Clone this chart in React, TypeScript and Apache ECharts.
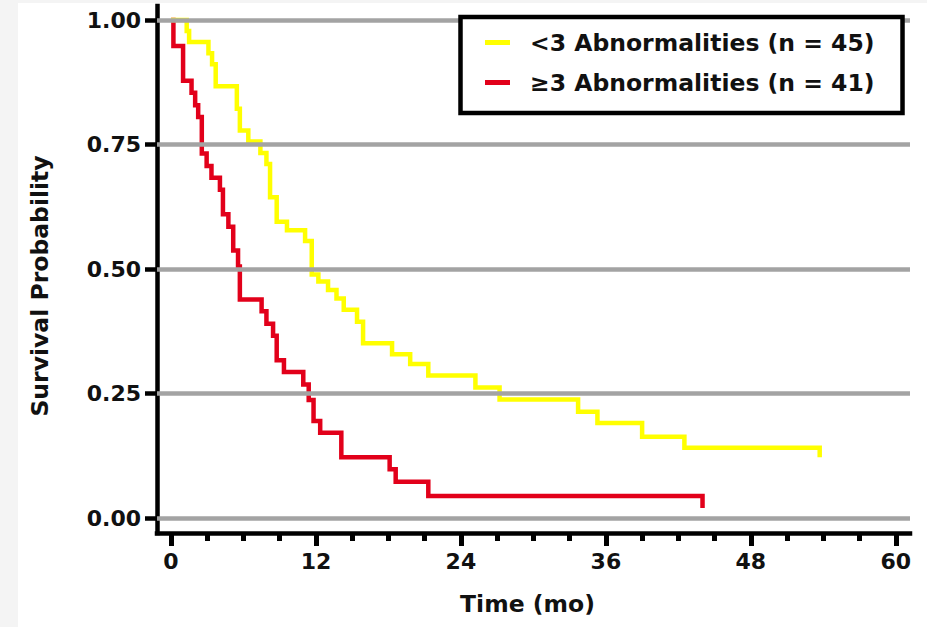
import React, { useEffect, useRef } from "react";
import * as echarts from "echarts";

const yellowName = "<3 Abnormalities (n = 45)";
const redName = "\u22653 Abnormalities (n = 41)";

const yellowTimes = [0, 1.3, 1.5, 3.1, 3.4, 3.7, 5.45, 5.7, 6.4, 7.4, 7.9, 8.2, 8.75, 9.6, 11.1, 11.65, 12.2, 13.0, 13.7, 14.3, 15.4, 15.9, 18.3, 19.8, 21.3, 25.2, 27.2, 33.7, 35.3, 39.0, 42.5, 53.7];
const yellowSurv = [1, 0.978, 0.956, 0.933, 0.911, 0.867, 0.822, 0.778, 0.756, 0.733, 0.711, 0.644, 0.595, 0.578, 0.556, 0.489, 0.475, 0.458, 0.441, 0.418, 0.394, 0.351, 0.329, 0.309, 0.286, 0.262, 0.238, 0.2135, 0.191, 0.163, 0.141, 0.122];

const redTimes = [0, 0.2, 1.0, 1.7, 2.0, 2.25, 2.55, 2.95, 3.35, 4.05, 4.3, 4.75, 5.15, 5.55, 5.7, 7.5, 7.9, 8.45, 8.75, 9.35, 10.95, 11.4, 11.8, 12.35, 14.1, 18.1, 18.6, 21.3, 44.0];
const redSurv = [1, 0.948, 0.878, 0.854, 0.829, 0.805, 0.732, 0.707, 0.683, 0.659, 0.61, 0.585, 0.537, 0.505, 0.439, 0.415, 0.39, 0.366, 0.317, 0.293, 0.268, 0.237, 0.195, 0.171, 0.122, 0.098, 0.073, 0.044, 0.02];

const gridValues = [0, 0.25, 0.5, 0.75, 1];
const xTickMin = 0;
const xTickMax = 60;
const xTickStep = 12;
const yTickMin = 0;
const yTickMax = 1;
const yTickStep = 0.25;

const FONT = "DejaVu Sans";

export default function App() {
  const ref = useRef<HTMLDivElement>(null);
  useEffect(() => {
    if (!ref.current) return;
    const chart = echarts.init(ref.current, null, { renderer: "svg" });
    const pxPerMonth = 12.08;
    const x0 = 171;
    const pxPerUnit = 498;
    const y0 = 518;
    const aLeft = 157, aRight = 910, aTop = 6, aBottom = 533;
    const labelStyle = { fontFamily: FONT, fontWeight: "bold" as const, fontSize: 22, color: "#111" };
    chart.setOption({
      animation: false,
      backgroundColor: "#ffffff",
      grid: [
        { left: aLeft, top: aTop, width: aRight - aLeft, height: aBottom - aTop, containLabel: false },
        { left: x0, top: 20, width: pxPerMonth * 60, height: pxPerUnit, containLabel: false },
      ],
      xAxis: [
        {
          gridIndex: 0,
          type: "value",
          min: (aLeft - x0) / pxPerMonth,
          max: (aRight - x0) / pxPerMonth,
          position: "bottom",
          axisLine: { show: true, onZero: false, lineStyle: { color: "#000", width: 4.5, cap: "square" } },
          axisTick: { show: false },
          axisLabel: { show: false },
          splitLine: { show: false },
        },
        {
          gridIndex: 1,
          type: "value",
          min: xTickMin,
          max: xTickMax,
          interval: xTickStep,
          offset: 15,
          position: "bottom",
          axisLine: { show: false, onZero: false },
          axisTick: { show: true, length: 13, lineStyle: { color: "#000", width: 5 } },
          minorTick: { show: true, splitNumber: 4, length: 8, lineStyle: { color: "#000", width: 5 } },
          axisLabel: { show: true, margin: 17, ...labelStyle },
          splitLine: { show: false },
        },
      ],
      yAxis: [
        {
          gridIndex: 0,
          type: "value",
          min: -(aBottom - y0) / pxPerUnit,
          max: 1 + (20 - aTop) / pxPerUnit,
          position: "left",
          axisLine: { show: true, onZero: false, lineStyle: { color: "#000", width: 4.5, cap: "square" } },
          axisTick: { show: false },
          axisLabel: { show: false },
          splitLine: { show: false },
        },
        {
          gridIndex: 1,
          type: "value",
          min: yTickMin,
          max: yTickMax,
          interval: yTickStep,
          offset: 14,
          position: "left",
          axisLine: { show: false, onZero: false },
          axisTick: { show: true, length: 12, lineStyle: { color: "#000", width: 4.5 } },
          axisLabel: { show: true, margin: 16, formatter: (v: number) => v.toFixed(2), ...labelStyle },
          splitLine: { show: false },
        },
      ],
      legend: {
        data: [yellowName, redName],
        orient: "vertical",
        left: 460.5,
        top: 17,
        padding: [13.5, 28, 18.5, 24.5],
        itemGap: 16,
        itemWidth: 25,
        itemHeight: 5,
        icon: "rect",
        selectedMode: false,
        backgroundColor: "#ffffff",
        borderColor: "#000",
        borderWidth: 4.5,
        z: 10,
        textStyle: {
          fontFamily: FONT,
          fontWeight: "bold",
          fontSize: 23.5,
          lineHeight: 24,
          color: "#111",
          padding: [0, 0, 0, 15],
        },
      },
      graphic: [
        { type: "rect", shape: { x: 0, y: 0, width: 18, height: 627 }, style: { fill: "#f4f4f4" }, z: 0, silent: true },
        { type: "rect", shape: { x: 0, y: 0, width: 927, height: 3 }, style: { fill: "#f4f4f4" }, z: 0, silent: true },
        {
          type: "text",
          x: 40,
          y: 286,
          rotation: Math.PI / 2,
          style: { text: "Survival Probability", font: `bold 23.5px "${FONT}"`, fill: "#111", align: "center", verticalAlign: "middle" },
        },
        {
          type: "text",
          x: 527.5,
          y: 603.5,
          style: { text: "Time (mo)", font: `bold 23.5px "${FONT}"`, fill: "#111", align: "center", verticalAlign: "middle" },
        },
      ],
      series: [
        {
          type: "line",
          xAxisIndex: 0,
          yAxisIndex: 0,
          data: [],
          symbol: "none",
          silent: true,
          z: 1,
          markLine: {
            silent: true,
            symbol: ["none", "none"],
            label: { show: false },
            lineStyle: { color: "#a3a3a3", width: 4.5, type: "solid" },
            data: gridValues.map((v) => ({ yAxis: v })),
          },
        },
        {
          name: redName,
          type: "line",
          xAxisIndex: 0,
          yAxisIndex: 0,
          step: "end",
          symbol: "none",
          showSymbol: false,
          z: 3,
          color: "#e2001a",
          itemStyle: { color: "#e2001a" },
          lineStyle: { color: "#e2001a", width: 4.5, join: "miter" },
          data: redTimes.map((t, i) => [t, redSurv[i]]),
        },
        {
          name: yellowName,
          type: "line",
          xAxisIndex: 0,
          yAxisIndex: 0,
          step: "end",
          symbol: "none",
          showSymbol: false,
          z: 4,
          color: "#ffff00",
          itemStyle: { color: "#ffff00" },
          lineStyle: { color: "#ffff00", width: 4.5, join: "miter" },
          data: yellowTimes.map((t, i) => [t, yellowSurv[i]]),
        },
      ],
    });
    return () => chart.dispose();
  }, []);
  return <div ref={ref} style={{ position: "fixed", left: 0, top: 0, width: 927, height: 627 }} />;
}
